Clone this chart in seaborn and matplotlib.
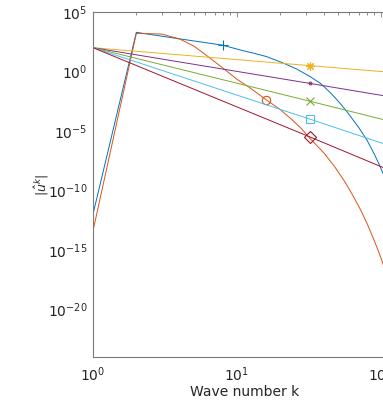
import matplotlib
matplotlib.use("Agg")
import matplotlib.pyplot as plt
import seaborn as sns
import numpy as np
from matplotlib.ticker import FixedLocator, LogLocator, NullFormatter, LogFormatterSciNotation

# ---- data (values of |u^k|) ----
k_blue = [1, 2, 3, 4, 6, 8, 11, 13, 16, 21, 26, 32, 38, 44, 48, 52, 58, 64, 70,
          80, 90, 96, 101, 110, 128]
u_blue = [1.0e-12, 1.95e3, 9.3e2, 5.5e2, 2.7e2, 1.6e2, 5.6e1, 3.5e1, 1.8e1,
          5.1e0, 1.6e0, 3.9e-1, 1.0e-1, 1.9e-2, 6.2e-3, 2.1e-3, 4.2e-4, 8.5e-5,
          2.0e-5, 1.7e-6, 1.1e-7, 2.1e-8, 5.2e-9, 5.0e-10, 3.2e-12]

k_orange = [1, 2, 3, 4, 5, 6, 8, 10, 12, 16, 20, 24, 28, 32, 40, 48, 56, 64, 72,
            80, 88, 95, 102, 115, 128]
u_orange = [4.0e-14, 1.6e3, 1.4e3, 5.4e2, 1.4e2, 2.8e1, 1.9e0, 2.2e-1, 5.2e-2,
            4.1e-3, 6.2e-4, 9.3e-5, 1.6e-5, 2.5e-6, 1.5e-7, 8.9e-9, 5.6e-10,
            3.5e-11, 2.5e-12, 1.7e-13, 1.1e-14, 1.1e-15, 1.05e-16, 1.4e-18, 2.0e-20]

k_pow = [1, 32, 128]
u_yellow = [100, 3.1, 0.78]
u_purple = [100, 0.1, 6.1e-3]
u_green = [100, 3.2e-3, 4.8e-5]
u_cyan = [100, 1.0e-4, 3.7e-7]
u_red = [100, 3.2e-6, 2.9e-9]

x_label = "Wave number k"
y_label = r"$|\hat{u}^k|$"

# ---- styling ----
sns.set_theme(style="white")
plt.rcParams["font.family"] = ["DejaVu Sans"]
plt.rcParams["mathtext.fontset"] = "dejavusans"

fig = plt.figure(figsize=(3.83, 4.04), dpi=100)
ax = fig.add_axes([93 / 383, 47 / 404, 303.4 / 383, 345 / 404])
ax.set_xscale("log")
ax.set_yscale("log")

series = [
    (k_blue, u_blue, "#0072BD", "+", 5, 7),
    (k_orange, u_orange, "#D95319", "o", 9, 6),
    (k_pow, u_yellow, "#EDB120", (8, 2, 0), 1, 6),
    (k_pow, u_purple, "#7E2F8E", ".", 1, 4),
    (k_pow, u_green, "#77AC30", "x", 1, 6),
    (k_pow, u_cyan, "#4DBEEE", "s", 1, 6),
    (k_pow, u_red, "#A2142F", "D", 1, 6),
]
for k, u, c, m, idx, ms in series:
    sns.lineplot(x=k, y=u, ax=ax, color=c, linewidth=0.7, marker=m,
                 markevery=[idx], markersize=ms, markerfacecolor="none",
                 markeredgecolor=c, markeredgewidth=0.8, sort=False)

ax.set_xlim(1, 128)
ax.set_ylim(1e-24, 1e5)

ax.xaxis.set_major_locator(FixedLocator([1, 10, 100]))
ax.xaxis.set_minor_locator(LogLocator(base=10, subs=np.arange(2, 10), numticks=20))
ax.xaxis.set_minor_formatter(NullFormatter())
ax.xaxis.set_major_formatter(LogFormatterSciNotation())
ax.yaxis.set_major_locator(FixedLocator([1e-20, 1e-15, 1e-10, 1e-5, 1e0, 1e5]))
ax.yaxis.set_minor_locator(FixedLocator([10.0 ** e for e in range(-24, 6)]))
ax.yaxis.set_minor_formatter(NullFormatter())
ax.yaxis.set_major_formatter(LogFormatterSciNotation())

text_c = "#262626"
spine_c = "#7a7a7a"
for s in ax.spines.values():
    s.set_color(spine_c)
    s.set_linewidth(0.8)
ax.tick_params(which="both", direction="in", top=True, right=True,
               color=spine_c, width=0.6, labelcolor=text_c, labelsize=10)
ax.tick_params(which="major", length=3.5)
ax.tick_params(axis="x", which="major", pad=6)
ax.tick_params(axis="y", which="major", pad=4)
ax.tick_params(which="minor", length=2)

ax.set_xlabel(x_label, fontsize=10, color=text_c, labelpad=1)
ax.set_ylabel(y_label, fontsize=9, color=text_c, labelpad=-2)

fig.savefig("out.png", dpi=100)
